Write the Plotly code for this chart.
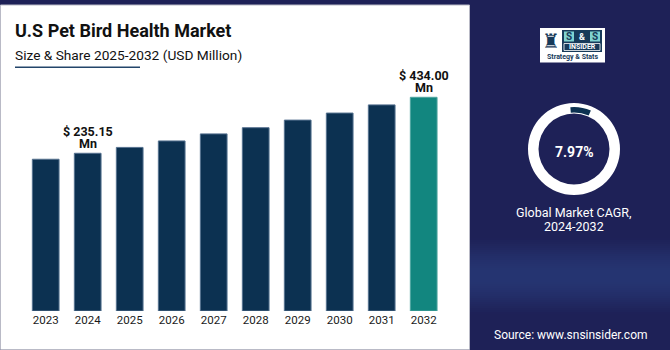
import plotly.graph_objects as go
import math

# ---------------- data ----------------
years = ["2023", "2024", "2025", "2026", "2027", "2028", "2029", "2030", "2031", "2032"]
values = [214, 235.15, 256, 279, 304, 326, 353, 378, 407, 434]
label_years = ["2024", "2032"]
cagr_value = 7.97
title_text = "U.S Pet Bird Health Market"
subtitle_text = "Size & Share 2025-2032 (USD Million)"
cagr_caption = ["Global Market CAGR,", "2024-2032"]
source_text = "Source: www.snsinsider.com"

# ---------------- helpers ----------------
W, H = 670, 350
NAVY_BG = "#1e2157"
BAR_NAVY = "#0c3151"
BAR_TEAL = "#12867f"
FONT = "Roboto"
Y_MIN, Y_MAX = -324.9, 566.4   # truncated value axis (bars rise from the axis floor)


def fx(x):
    return x / W


def fy(y):
    return 1 - y / H


fig = go.Figure()

xpos = list(range(len(years)))
bar_colors = [BAR_TEAL if y == years[-1] else BAR_NAVY for y in years]
line_colors = ["#4fa5a0" if y == years[-1] else "#55718f" for y in years]

fig.add_trace(go.Bar(
    x=xpos, y=[v - Y_MIN for v in values], base=Y_MIN, width=0.636,
    marker=dict(color=bar_colors, line=dict(color=line_colors, width=1)),
    hoverinfo="skip", showlegend=False,
))

# donut: white ring + CAGR arc
fig.add_trace(go.Pie(
    values=[1], marker=dict(colors=["#ffffff"], line=dict(width=0)),
    hole=35.5 / 46, textinfo="none", hoverinfo="skip", showlegend=False, sort=False,
    domain=dict(x=[fx(574 - 46), fx(574 + 46)], y=[fy(149 + 46), fy(149 - 46)]),
))
fig.add_trace(go.Pie(
    values=[cagr_value, 100 - cagr_value],
    marker=dict(colors=["#0c3151", "rgba(0,0,0,0)"], line=dict(width=0)),
    hole=36.5 / 42, textinfo="none", hoverinfo="skip", showlegend=False, sort=False,
    direction="clockwise", rotation=-5,
    domain=dict(x=[fx(574 - 42), fx(574 + 42)], y=[fy(149 + 42), fy(149 - 42)]),
))

shapes = []
# right panel gradient band
for i in range(40):
    y0 = 236 + i * 2
    t = i / 39
    k = math.sin(math.pi * t) ** 1.2
    r = int(0x1e + (0x26 - 0x1e) * k)
    g = int(0x21 + (0x35 - 0x21) * k)
    b = int(0x57 + (0x72 - 0x57) * k)
    shapes.append(dict(type="rect", xref="paper", yref="paper", layer="below",
                       x0=fx(470), x1=1, y0=fy(y0 + 2), y1=fy(y0),
                       fillcolor=f"rgb({r},{g},{b})", line=dict(width=0)))
# white panel
shapes.append(dict(type="rect", xref="paper", yref="paper", layer="below",
                   x0=fx(0.5), x1=fx(469.5), y0=fy(349.5), y1=fy(5),
                   fillcolor="#ffffff", line=dict(color="#b9bac6", width=1)))
# title underline
shapes.append(dict(type="line", xref="paper", yref="paper",
                   x0=fx(15), x1=fx(140), y0=fy(67.3), y1=fy(67.3),
                   line=dict(color="#23456a", width=1.5)))
# logo
shapes.append(dict(type="rect", xref="paper", yref="paper",
                   x0=fx(540), x1=fx(605), y0=fy(62.5), y1=fy(28),
                   fillcolor="#ffffff", line=dict(width=0)))
shapes.append(dict(type="rect", xref="paper", yref="paper",
                   x0=fx(562), x1=fx(602), y0=fy(52), y1=fy(30),
                   fillcolor="#173a5a", line=dict(width=0)))
shapes.append(dict(type="rect", xref="paper", yref="paper",
                   x0=fx(564), x1=fx(574), y0=fy(41.5), y1=fy(31.5),
                   fillcolor="#7fd3d0", line=dict(width=0)))
shapes.append(dict(type="rect", xref="paper", yref="paper",
                   x0=fx(590), x1=fx(600), y0=fy(41.5), y1=fy(31.5),
                   fillcolor="#7fd3d0", line=dict(width=0)))
shapes.append(dict(type="rect", xref="paper", yref="paper",
                   x0=fx(564), x1=fx(600), y0=fy(50.5), y1=fy(43.5),
                   fillcolor="rgba(0,0,0,0)", line=dict(color="#ffffff", width=0.8)))

annotations = []
annotations.append(dict(text=f"<b>{title_text}</b>", xref="paper", yref="paper",
                        x=fx(13), y=fy(31), xanchor="left", yanchor="middle", showarrow=False,
                        font=dict(family=FONT, size=18, color="#111111")))
annotations.append(dict(text=subtitle_text, xref="paper", yref="paper",
                        x=fx(13), y=fy(55), xanchor="left", yanchor="middle", showarrow=False,
                        font=dict(family=FONT, size=13.7, color="#111111")))
for xp, yr, v in zip(xpos, years, values):
    if yr in label_years:
        annotations.append(dict(text=f"<b>$ {v:.2f}</b>", x=xp, y=v, xref="x", yref="y",
                                yanchor="bottom", yshift=13.5, showarrow=False, borderpad=0,
                                font=dict(family=FONT, size=12.5, color="#111111")))
        annotations.append(dict(text="<b>Mn</b>", x=xp, y=v, xref="x", yref="y",
                                yanchor="bottom", yshift=1.5, showarrow=False, borderpad=0,
                                font=dict(family=FONT, size=12.5, color="#111111")))
annotations.append(dict(text=f"<b>{cagr_value:.2f}%</b>", xref="paper", yref="paper",
                        x=fx(574), y=fy(152), xanchor="center", yanchor="middle", showarrow=False,
                        font=dict(family=FONT, size=14, color="#ffffff")))
annotations.append(dict(text=cagr_caption[0], xref="paper", yref="paper",
                        x=fx(574), y=fy(212.5), xanchor="center", yanchor="middle", showarrow=False,
                        font=dict(family=FONT, size=12.5, color="#ffffff")))
annotations.append(dict(text=cagr_caption[1], xref="paper", yref="paper",
                        x=fx(574), y=fy(226), xanchor="center", yanchor="middle", showarrow=False,
                        font=dict(family=FONT, size=12.5, color="#ffffff")))
annotations.append(dict(text=source_text, xref="paper", yref="paper",
                        x=fx(571), y=fy(334.5), xanchor="center", yanchor="middle", showarrow=False,
                        font=dict(family=FONT, size=12, color="#ffffff")))
# logo texts
annotations.append(dict(text="♜", xref="paper", yref="paper",
                        x=fx(551), y=fy(41), xanchor="center", yanchor="middle", showarrow=False,
                        font=dict(family="DejaVu Sans", size=20, color="#173a5a")))
annotations.append(dict(text="<b>S</b>", xref="paper", yref="paper",
                        x=fx(569), y=fy(36.5), xanchor="center", yanchor="middle", showarrow=False,
                        font=dict(family=FONT, size=10, color="#173a5a")))
annotations.append(dict(text="<b>&</b>", xref="paper", yref="paper",
                        x=fx(582), y=fy(36.5), xanchor="center", yanchor="middle", showarrow=False,
                        font=dict(family=FONT, size=9, color="#ffffff")))
annotations.append(dict(text="<b>S</b>", xref="paper", yref="paper",
                        x=fx(595), y=fy(36.5), xanchor="center", yanchor="middle", showarrow=False,
                        font=dict(family=FONT, size=10, color="#173a5a")))
annotations.append(dict(text="<b>INSIDER</b>", xref="paper", yref="paper",
                        x=fx(582), y=fy(47), xanchor="center", yanchor="middle", showarrow=False,
                        font=dict(family=FONT, size=7, color="#ffffff")))
annotations.append(dict(text="<b>Strategy & Stats</b>", xref="paper", yref="paper",
                        x=fx(572.5), y=fy(57.5), xanchor="center", yanchor="middle", showarrow=False,
                        font=dict(family=FONT, size=7, color="#173a5a")))

fig.update_layout(
    width=W, height=H,
    margin=dict(l=0, r=0, t=0, b=0),
    paper_bgcolor=NAVY_BG, plot_bgcolor="rgba(0,0,0,0)",
    shapes=shapes, annotations=annotations,
    xaxis=dict(domain=[fx(24.7), fx(444.7)], range=[-0.5, len(years) - 0.5],
               tickmode="array", tickvals=xpos, ticktext=years,
               showgrid=False, zeroline=False, showline=False, ticks="",
               tickfont=dict(family=FONT, size=11.5, color="#1a1a1a"), fixedrange=True),
    yaxis=dict(domain=[fy(311), fy(60)], range=[Y_MIN, Y_MAX], visible=False,
               showgrid=False, zeroline=False, fixedrange=True),
)

fig.write_html("out.html")
